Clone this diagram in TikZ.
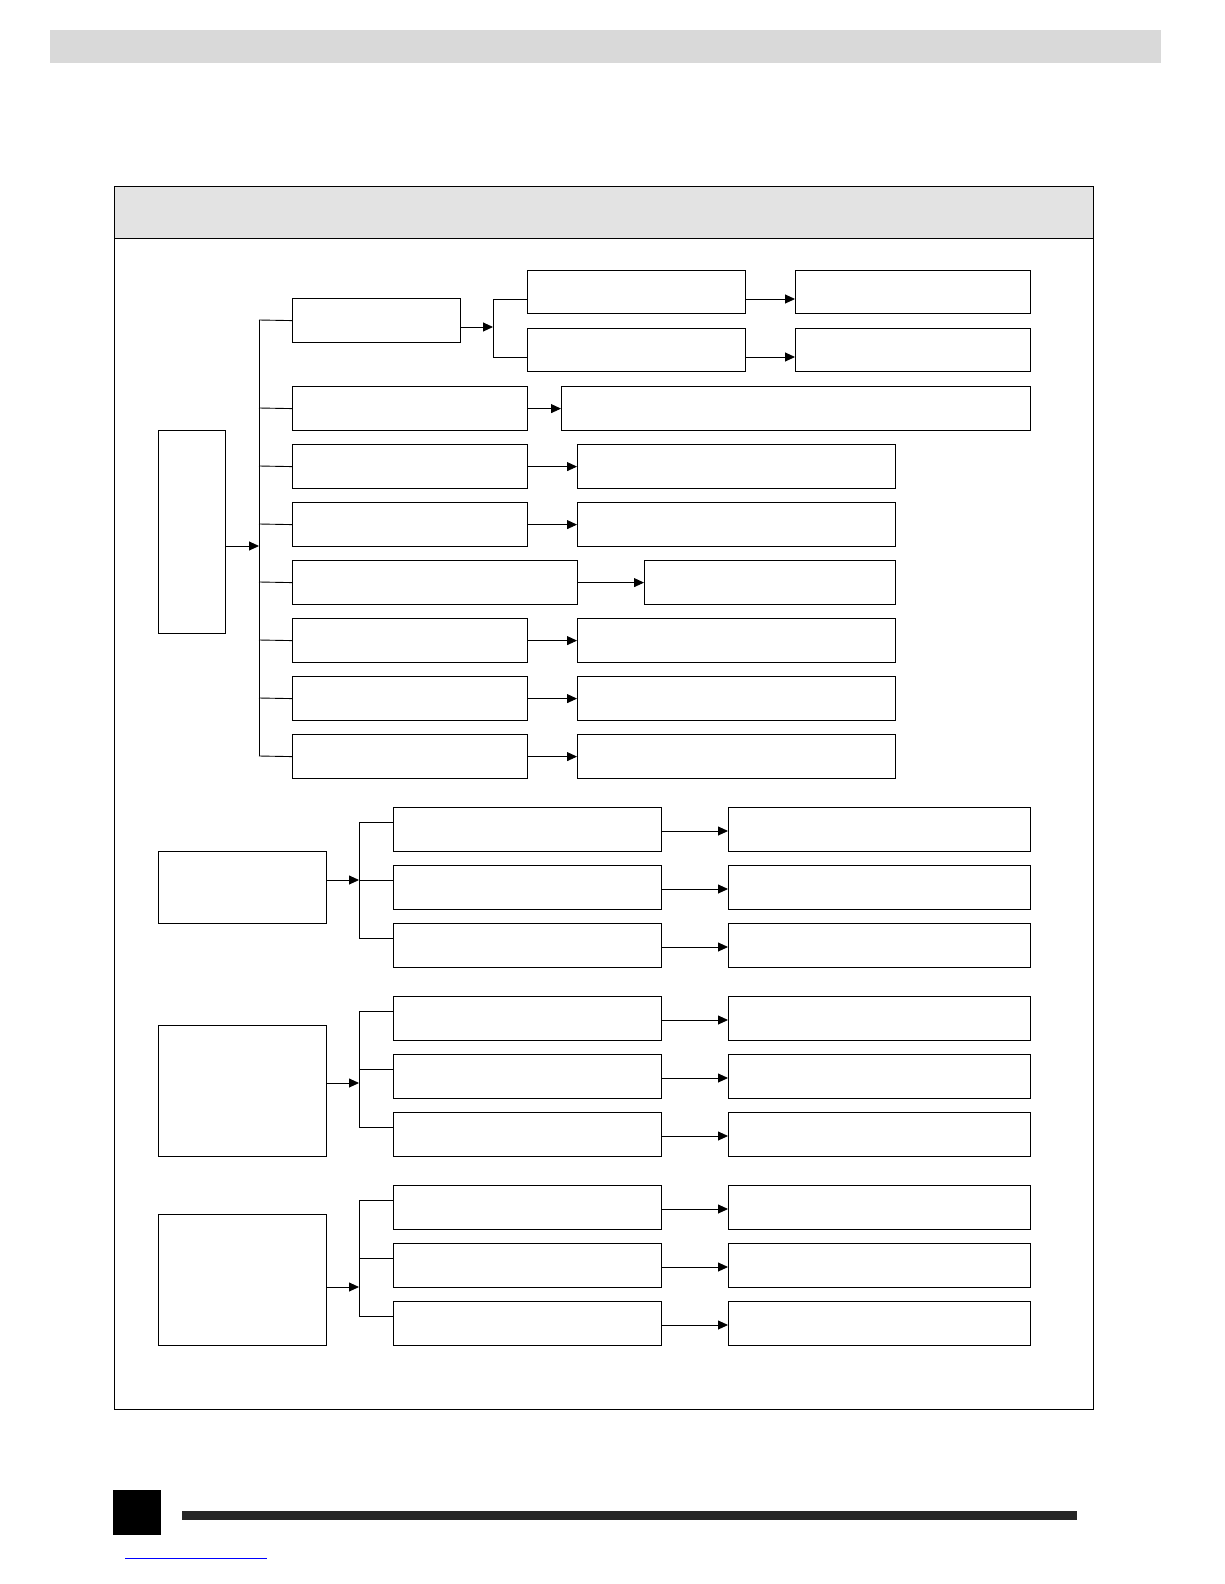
\documentclass[tikz,border=0pt]{standalone}
\usetikzlibrary{arrows.meta,calc}
\begin{document}
\begin{tikzpicture}[x=1bp,y=-1bp,
  box/.style={draw,line width=1.2pt,inner sep=0pt,anchor=north west,rectangle},
  arr/.style={line width=0.9pt,-{Triangle[length=10pt,width=9pt]}},
  ln/.style={line width=0.9pt}]
\newcommand{\bx}[5]{\node[box,minimum width={((#4)-(#2))*1bp},minimum height={((#5)-(#3))*1bp}] (#1) at ({#2},{#3}) {};}
\useasboundingbox (0,0) rectangle (1224,1584);
\fill[gray!30] (50,30) rectangle (1161,63);
\draw[line width=0.8pt] (114,186) rectangle (1093,1409);
\draw[line width=0.8pt,fill=gray!22] (114,186) rectangle (1093,238);
% group 1
\bx{L1}{158}{430}{225}{633}
\coordinate (S1) at (259,546);
\draw[arr] (L1.east|-S1) -- (S1);
\draw[ln] (259,320) -- (259,756);
\bx{A}{292}{298}{460}{342}
\coordinate (SA) at (493,327);
\draw[arr] (A.east|-SA) -- (SA);
\draw[ln] (493,299) -- (493,357);
\bx{A1}{527}{270}{745}{313}
\bx{A2}{527}{328}{745}{371}
\bx{A1r}{795}{270}{1030}{313}
\bx{A2r}{795}{328}{1030}{371}
\draw[ln] (493,299) -- (A1.west|-493,299);
\draw[ln] (493,357) -- (A2.west|-493,357);
\draw[arr] (745,299) -- (A1r.west|-745,299);
\draw[arr] (745,357) -- (A2r.west|-745,357);
\draw[ln] (259,320) -- (A.west);
\bx{B}{292}{386}{527}{430}\bx{Br}{561}{386}{1030}{430}
\draw[ln] (259,408) -- (B.west); \draw[arr] (B.east) -- (Br.west);
\foreach \n/\t in {C/444,D/502,F/618,G/676,H/734}{
  \bx{\n}{292}{\t}{527}{\t+44}\bx{\n r}{577}{\t}{895}{\t+44}
  \draw[ln] (259,\t+22) -- (\n.west); \draw[arr] (\n.east) -- (\n r.west);}
\bx{E}{292}{560}{577}{604}\bx{Er}{644}{560}{895}{604}
\draw[ln] (259,582) -- (E.west); \draw[arr] (E.east) -- (Er.west);
% groups 2-4
\foreach \g/\ly/\lh/\ay/\t in {P/851/72/880/807,Q/1025/131/1083/996,R/1214/131/1287/1185}{
  \bx{\g L}{158}{\ly}{326}{\ly+\lh}
  \coordinate (\g S) at (359,\ay);
  \draw[arr] (\g L.east|-\g S) -- (\g S);
  \draw[ln] (359,\t+15) -- (359,\t+131);
  \foreach \k in {0,1,2}{
    \pgfmathsetmacro{\yy}{\t+58*\k}
    \bx{\g\k}{393}{\yy}{661}{\yy+44}
    \bx{\g\k r}{728}{\yy}{1030}{\yy+44}
    \draw[ln] (359,\yy+15) -- (\g\k.west|-359,\yy+15);
    \draw[arr] (661,\yy+24) -- (\g\k r.west|-661,\yy+24);}}
% footer
\fill[black] (113,1490) rectangle (161,1535);
\fill[black!85] (182,1511) rectangle (1077,1520);
\draw[blue,line width=0.6pt] (125,1558) -- (267,1558);
\end{tikzpicture}
\end{document}
